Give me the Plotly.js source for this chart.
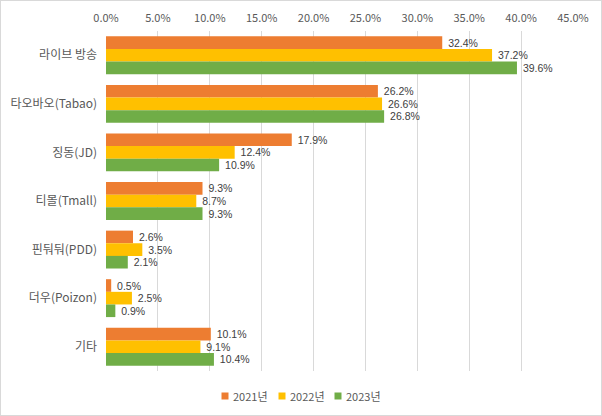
<!DOCTYPE html>
<html>
<head>
<meta charset="utf-8">
<script src="https://cdn.plot.ly/plotly-3.0.1.min.js"></script>
<style>
  html, body { margin: 0; padding: 0; background: #fff; }
  #wrap { position: relative; width: 602px; height: 416px; }
  #chart { width: 602px; height: 416px; }
  #border { position: absolute; left: 0; top: 0; width: 600px; height: 414px; border: 1px solid #d9d9d9; pointer-events: none; }
</style>
</head>
<body>
<div id="wrap"><div id="chart"></div><div id="border"></div></div>
<script>
const categories = ["라이브 방송", "타오바오(Tabao)", "징동(JD)", "티몰(Tmall)", "핀둬둬(PDD)", "더우(Poizon)", "기타"];
const seriesNames = ["2021년", "2022년", "2023년"];
const values2021 = [32.4, 26.2, 17.9, 9.3, 2.6, 0.5, 10.1];
const values2022 = [37.2, 26.6, 12.4, 8.7, 3.5, 2.5, 9.1];
const values2023 = [39.6, 26.8, 10.9, 9.3, 2.1, 0.9, 10.4];
const colors = ["#ED7D31", "#FFC000", "#70AD47"];

const FONT = '"Noto Sans CJK KR", "Noto Sans", sans-serif';
const NUMFONT = '"Liberation Sans", Arial, sans-serif';
const allValues = [values2021, values2022, values2023];

const traces = allValues.map((vals, i) => ({
  type: "bar",
  orientation: "h",
  name: seriesNames[i],
  y: categories,
  x: vals,
  marker: { color: colors[i] },
  text: vals.map(v => "\u00A0" + v.toFixed(1) + "%"),
  textposition: "outside",
  textfont: { family: NUMFONT, size: 10.5, color: "#404040" },
  constraintext: "none",
  cliponaxis: false,
  hoverinfo: "skip",
  showlegend: false
}));

// custom legend (Excel-style small squares close to the text)
const ML = 106, MR = 29, MT = 31, MB = 45, W = 602, H = 416;
const plotW = W - ML - MR, plotH = H - MT - MB;
const px2x = p => (p - ML) / plotW;
const py2y = p => (H - MB - p) / plotH;
const legendCenters = [225, 282, 338];
const legendY = 396;
const shapes = [];
const annotations = [];
seriesNames.forEach((name, i) => {
  const cx = legendCenters[i];
  shapes.push({
    type: "rect", xref: "paper", yref: "paper",
    x0: px2x(cx - 3.5), x1: px2x(cx + 3.5),
    y0: py2y(legendY + 3.5), y1: py2y(legendY - 3.5),
    fillcolor: colors[i], line: { width: 0 }
  });
  annotations.push({
    xref: "paper", yref: "paper",
    x: px2x(cx + 6), y: py2y(legendY),
    xanchor: "left", yanchor: "middle",
    text: name, showarrow: false,
    font: { family: FONT, size: 11, color: "#595959" }
  });
});

const layout = {
  width: W,
  height: H,
  margin: { l: ML, r: MR, t: MT, b: MB },
  paper_bgcolor: "#ffffff",
  plot_bgcolor: "#ffffff",
  font: { family: FONT, color: "#595959", size: 11 },
  barmode: "group",
  bargap: 0.22,
  bargroupgap: 0,
  showlegend: false,
  shapes: shapes,
  annotations: annotations,
  xaxis: {
    side: "top",
    range: [0, 45],
    dtick: 5,
    tick0: 0,
    tickformat: ".1f",
    ticksuffix: "%",
    showgrid: true,
    gridcolor: "#d9d9d9",
    gridwidth: 1,
    zeroline: false,
    showline: false,
    ticks: "",
    ticklabelstandoff: 6,
    tickfont: { family: FONT, size: 11, color: "#595959" },
    fixedrange: true
  },
  yaxis: {
    autorange: "reversed",
    showgrid: false,
    zeroline: false,
    showline: false,
    ticks: "",
    ticklabelstandoff: 8,
    tickfont: { family: FONT, size: 12, color: "#595959" },
    fixedrange: true
  }
};

Plotly.newPlot("chart", traces, layout, { displayModeBar: false, staticPlot: true });
</script>
</body>
</html>
